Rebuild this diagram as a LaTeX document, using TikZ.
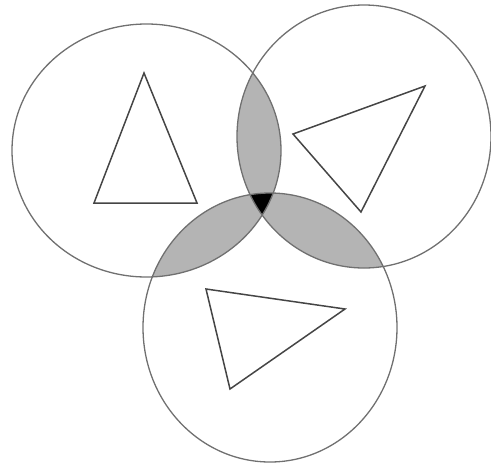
\documentclass[tikz,border=0pt]{standalone}
\usepackage{tikz}
\usetikzlibrary{calc}
\definecolor{ringgray}{HTML}{707070}
\definecolor{lensgray}{HTML}{B4B4B4}
\definecolor{shapegray}{HTML}{454545}

\newcommand{\ringleft}{(cleft) ellipse [x radius=134.5, y radius=126.5]}
\newcommand{\ringright}{(cright) ellipse [x radius=127, y radius=131.5]}
\newcommand{\ringbottom}{(cbottom) ellipse [x radius=127, y radius=134.5]}

\begin{document}
\begin{tikzpicture}[x=1pt, y=-1pt]
    \tikzstyle{ring}=[draw=ringgray,line width=1.3pt]
    \tikzstyle{lens}=[fill=lensgray]
    \tikzstyle{trishape}=[draw=shapegray,line width=1.5pt,line join=miter]
    \useasboundingbox (0,0) rectangle (491,464);
    \coordinate (cleft) at (146.5,150.5);
    \coordinate (cright) at (364,136.5);
    \coordinate (cbottom) at (270,327.5);
    % pairwise overlaps
    \begin{scope}
        \clip \ringleft;
        \fill[lens] \ringright;
        \fill[lens] \ringbottom;
    \end{scope}
    \begin{scope}
        \clip \ringright;
        \fill[lens] \ringbottom;
    \end{scope}
    % common part of all three
    \begin{scope}
        \clip \ringleft;
        \clip \ringright;
        \fill[black] \ringbottom;
    \end{scope}
    \draw[ring] \ringleft;
    \draw[ring] \ringright;
    \draw[ring] \ringbottom;
    % triangles
    \draw[trishape] (144,73) -- (197,203) -- (94,203) -- cycle;
    \draw[trishape] (293,134) -- (425,86) -- (361,212) -- cycle;
    \draw[trishape] (206,289) -- (345,309) -- (230,389) -- cycle;
\end{tikzpicture}
\end{document}
